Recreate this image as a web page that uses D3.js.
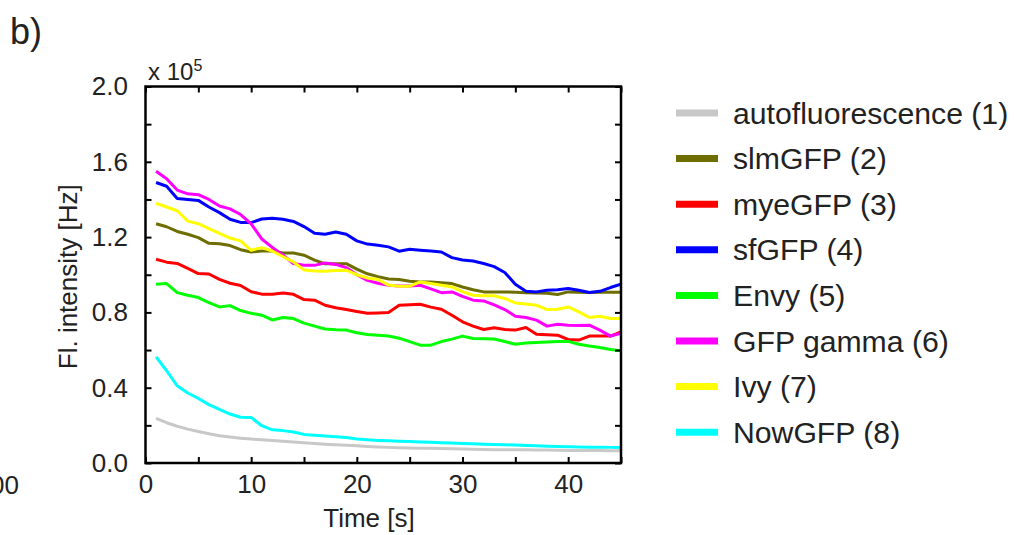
<!DOCTYPE html>
<html>
<head>
<meta charset="utf-8">
<script src="https://cdn.jsdelivr.net/npm/d3@7"></script>
<style>
  html, body { margin: 0; padding: 0; background: #fff; }
  svg { display: block; font-family: "Liberation Sans", Arial, sans-serif; }
  .tick text { fill: #222; }
</style>
</head>
<body>
<div id="chart"></div>
<script>
// ── Data (intensity in units of 1e5 Hz) ─────────────────────
const times = [1, 2, 3, 4, 5, 6, 7, 8, 9, 10, 11, 12, 13, 14, 15, 16, 17, 18, 19, 20, 21, 22, 23,
  24, 25, 26, 27, 28, 29, 30, 31, 32, 33, 34, 35, 36, 37, 38, 39, 40, 41, 42, 43, 44, 45];

const autofluorescence = [0.237, 0.214, 0.195, 0.180, 0.167, 0.155, 0.145, 0.138, 0.132, 0.127, 0.123, 0.119,
  0.115, 0.111, 0.107, 0.103, 0.100, 0.097, 0.094, 0.091, 0.088, 0.085, 0.083, 0.081, 0.080, 0.079, 0.078,
  0.077, 0.076, 0.074, 0.073, 0.072, 0.071, 0.071, 0.070, 0.070, 0.069, 0.069, 0.068, 0.067, 0.067, 0.066,
  0.066, 0.065, 0.065];
const slmGFP = [1.271, 1.255, 1.230, 1.215, 1.197, 1.167, 1.165, 1.155, 1.133, 1.121, 1.126, 1.126, 1.116,
  1.116, 1.104, 1.078, 1.058, 1.058, 1.059, 1.030, 1.005, 0.990, 0.977, 0.975, 0.965, 0.962, 0.962, 0.957,
  0.953, 0.935, 0.920, 0.909, 0.909, 0.909, 0.907, 0.905, 0.903, 0.902, 0.895, 0.909, 0.907, 0.906, 0.907,
  0.907, 0.907];
const myeGFP = [1.082, 1.067, 1.060, 1.034, 1.006, 1.004, 0.975, 0.955, 0.943, 0.910, 0.897, 0.897, 0.903,
  0.896, 0.868, 0.865, 0.838, 0.825, 0.815, 0.805, 0.795, 0.797, 0.800, 0.838, 0.840, 0.843, 0.828, 0.817,
  0.785, 0.750, 0.727, 0.709, 0.718, 0.709, 0.706, 0.720, 0.684, 0.681, 0.679, 0.656, 0.653, 0.674, 0.674,
  0.674, 0.697];
const sfGFP = [1.490, 1.470, 1.405, 1.400, 1.395, 1.360, 1.330, 1.295, 1.278, 1.277, 1.296, 1.300, 1.295,
  1.283, 1.256, 1.220, 1.215, 1.227, 1.215, 1.180, 1.163, 1.157, 1.148, 1.125, 1.135, 1.130, 1.126, 1.121,
  1.091, 1.078, 1.073, 1.060, 1.043, 1.012, 0.950, 0.912, 0.909, 0.918, 0.920, 0.927, 0.918, 0.906, 0.912,
  0.932, 0.950];
const envy = [0.950, 0.953, 0.905, 0.891, 0.879, 0.852, 0.829, 0.836, 0.810, 0.795, 0.785, 0.760, 0.773,
  0.767, 0.743, 0.727, 0.712, 0.708, 0.706, 0.692, 0.683, 0.679, 0.675, 0.663, 0.645, 0.626, 0.626, 0.645,
  0.658, 0.674, 0.661, 0.660, 0.659, 0.645, 0.631, 0.638, 0.640, 0.643, 0.645, 0.646, 0.631, 0.621, 0.614,
  0.603, 0.596];
const gfpGamma = [1.550, 1.510, 1.450, 1.430, 1.425, 1.400, 1.365, 1.350, 1.320, 1.270, 1.190, 1.145, 1.105,
  1.060, 1.050, 1.050, 1.063, 1.055, 1.038, 1.000, 0.970, 0.955, 0.944, 0.940, 0.940, 0.944, 0.925, 0.905,
  0.909, 0.885, 0.865, 0.861, 0.840, 0.815, 0.780, 0.773, 0.759, 0.727, 0.737, 0.732, 0.730, 0.732, 0.706,
  0.674, 0.690];
const ivy = [1.380, 1.360, 1.340, 1.285, 1.271, 1.245, 1.220, 1.195, 1.180, 1.130, 1.144, 1.126, 1.096,
  1.068, 1.025, 1.020, 1.019, 1.022, 1.024, 1.000, 0.983, 0.975, 0.945, 0.939, 0.939, 0.962, 0.953, 0.944,
  0.935, 0.910, 0.891, 0.889, 0.888, 0.874, 0.850, 0.845, 0.838, 0.815, 0.817, 0.829, 0.803, 0.773, 0.780,
  0.768, 0.768];
const nowGFP = [0.564, 0.490, 0.410, 0.372, 0.343, 0.310, 0.285, 0.260, 0.243, 0.242, 0.198, 0.176, 0.172,
  0.165, 0.152, 0.148, 0.143, 0.140, 0.136, 0.128, 0.123, 0.120, 0.118, 0.116, 0.114, 0.112, 0.110, 0.108,
  0.106, 0.104, 0.102, 0.100, 0.098, 0.097, 0.095, 0.093, 0.091, 0.089, 0.087, 0.086, 0.085, 0.084, 0.084,
  0.083, 0.083];

const seriesNames  = ['autofluorescence (1)', 'slmGFP (2)', 'myeGFP (3)', 'sfGFP (4)', 'Envy (5)',
  'GFP gamma (6)', 'Ivy (7)', 'NowGFP (8)'];
const seriesValues = [autofluorescence, slmGFP, myeGFP, sfGFP, envy, gfpGamma, ivy, nowGFP];
const seriesColors = ['#c8c8c8', '#6e6e00', '#ff0000', '#0000ff', '#00ff00', '#ff00ff', '#ffff00', '#00ffff'];

const xTicks = [0, 5, 10, 15, 20, 25, 30, 35, 40, 45];
const yTicks = [0, 0.2, 0.4, 0.6, 0.8, 1.0, 1.2, 1.4, 1.6, 1.8, 2.0];
const xLabeled = [0, 10, 20, 30, 40];
const yLabeled = [0, 0.4, 0.8, 1.2, 1.6, 2.0];

// ── Layout ──────────────────────────────────────────────────
const width = 1015, height = 535;
const plot = { left: 145.5, right: 621, top: 86.5, bottom: 463 };
const textColor = '#222';

const svg = d3.select('#chart').append('svg')
  .attr('width', width)
  .attr('height', height);

const x = d3.scaleLinear().domain([0, 45]).range([plot.left, plot.right]);
const y = d3.scaleLinear().domain([0, 2]).range([plot.bottom, plot.top]);

// ── Lines ───────────────────────────────────────────────────
const line = d3.line()
  .x((d, i) => x(times[i]))
  .y(d => y(d));

svg.append('defs').append('clipPath').attr('id', 'plot-clip')
  .append('rect')
  .attr('x', plot.left).attr('y', plot.top)
  .attr('width', plot.right - plot.left).attr('height', plot.bottom - plot.top);

const linesG = svg.append('g').attr('clip-path', 'url(#plot-clip)');
seriesValues.forEach((vals, k) => {
  linesG.append('path')
    .datum(vals)
    .attr('fill', 'none')
    .attr('stroke', seriesColors[k])
    .attr('stroke-width', 3)
    .attr('stroke-linejoin', 'round')
    .attr('d', line);
});

// ── Axes (inward ticks on all four sides) ───────────────────
function styleAxis(ax) {
  ax.select('.domain').remove();
  ax.selectAll('.tick line').attr('stroke', '#000').attr('stroke-width', 2);
  ax.selectAll('.tick text').attr('fill', textColor).attr('font-size', 26)
    .attr('font-family', '"Liberation Sans", Arial, sans-serif');
}

svg.append('g')
  .attr('transform', `translate(0,${plot.bottom})`)
  .call(d3.axisBottom(x).tickValues(xTicks).tickSize(-6).tickPadding(11.5)
    .tickFormat(d => xLabeled.includes(d) ? d3.format('d')(d) : ''))
  .call(styleAxis);

svg.append('g')
  .attr('transform', `translate(0,${plot.top})`)
  .call(d3.axisTop(x).tickValues(xTicks).tickSize(-6).tickFormat(''))
  .call(styleAxis);

svg.append('g')
  .attr('transform', `translate(${plot.left},0)`)
  .call(d3.axisLeft(y).tickValues(yTicks).tickSize(-6).tickPadding(17.5)
    .tickFormat(d => yLabeled.some(v => Math.abs(v - d) < 1e-9) ? d3.format('.1f')(d) : ''))
  .call(styleAxis);

svg.append('g')
  .attr('transform', `translate(${plot.right},0)`)
  .call(d3.axisRight(y).tickValues(yTicks).tickSize(-6).tickFormat(''))
  .call(styleAxis);

// Frame
svg.append('rect')
  .attr('x', plot.left).attr('y', plot.top)
  .attr('width', plot.right - plot.left).attr('height', plot.bottom - plot.top)
  .attr('fill', 'none')
  .attr('stroke', '#000')
  .attr('stroke-width', 2.5);

// ── Labels ──────────────────────────────────────────────────
svg.append('text')
  .attr('x', 369)
  .attr('y', 527)
  .attr('text-anchor', 'middle')
  .attr('font-size', 26)
  .attr('fill', textColor)
  .text('Time [s]');

svg.append('text')
  .attr('transform', `translate(77,${(plot.top + plot.bottom) / 2 + 2}) rotate(-90)`)
  .attr('text-anchor', 'middle')
  .attr('font-size', 26)
  .attr('fill', textColor)
  .text('Fl. intensity [Hz]');

const expo = svg.append('text')
  .attr('x', 148)
  .attr('y', 80)
  .attr('font-size', 24)
  .attr('fill', textColor);
expo.append('tspan').text('x 10');
expo.append('tspan').attr('dy', -9).attr('font-size', 16).text('5');

svg.append('text')
  .attr('x', 10)
  .attr('y', 44)
  .attr('font-size', 36)
  .attr('fill', textColor)
  .text('b)');

// Cut-off label from the neighbouring panel (clipped at the left edge, as in the source)
svg.append('text')
  .attr('x', 19)
  .attr('y', 494)
  .attr('text-anchor', 'end')
  .attr('font-size', 26)
  .attr('fill', textColor)
  .text('100');

// ── Legend ──────────────────────────────────────────────────
const legendG = svg.append('g').attr('transform', 'translate(676,113)');
seriesNames.forEach((name, k) => {
  const ly = k * 45.6;
  legendG.append('line')
    .attr('x1', 0).attr('x2', 42)
    .attr('y1', ly).attr('y2', ly)
    .attr('stroke', seriesColors[k])
    .attr('stroke-width', 7);
  legendG.append('text')
    .attr('x', 57)
    .attr('y', ly + 10.5)
    .attr('font-size', 30.2)
    .attr('fill', textColor)
    .text(name);
});
</script>
</body>
</html>
